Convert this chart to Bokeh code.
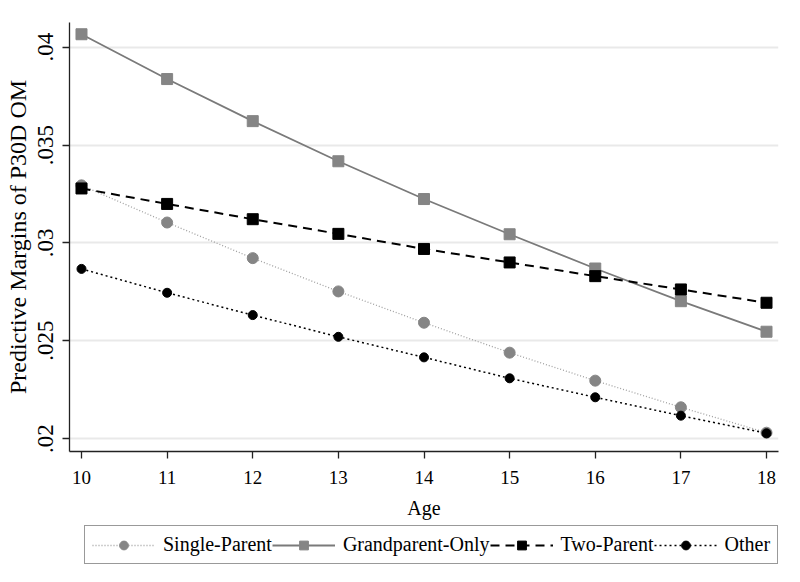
from bokeh.plotting import figure
from bokeh.layouts import column
from bokeh.models import Range1d, FixedTicker, Legend, LegendItem
from bokeh.embed import file_html
from bokeh.resources import INLINE

# ---- data ----
ages = [10, 11, 12, 13, 14, 15, 16, 17, 18]
single_parent = [0.03294, 0.03104, 0.02922, 0.02752, 0.02592, 0.02439, 0.02296, 0.02160, 0.02030]
grandparent_only = [0.04066, 0.03837, 0.03622, 0.03417, 0.03224, 0.03044, 0.02869, 0.02702, 0.02546]
two_parent = [0.03278, 0.03199, 0.03121, 0.03046, 0.02969, 0.02900, 0.02830, 0.02762, 0.02694]
other = [0.02867, 0.02745, 0.02631, 0.02520, 0.02415, 0.02308, 0.02211, 0.02117, 0.02027]

series_names = ["Single-Parent", "Grandparent-Only", "Two-Parent", "Other"]
x_ticks = [10, 11, 12, 13, 14, 15, 16, 17, 18]
y_ticks = [0.02, 0.025, 0.03, 0.035, 0.04]
y_tick_labels = [".02", ".025", ".03", ".035", ".04"]

FONT = "Liberation Serif"

# styles per series (line colour, line width, dash, marker, marker size, marker colour)
styles = [
    dict(lc="#a0a0a0", lw=1.3, dash="1 2", marker="circle", ms=11, mc="#858585"),
    dict(lc="#7a7a7a", lw=1.8, dash="solid", marker="square", ms=11, mc="#858585"),
    dict(lc="black", lw=2, dash="9 6", marker="square", ms=11, mc="black"),
    dict(lc="black", lw=1.5, dash="2 3", marker="circle", ms=9, mc="black"),
]
series = [single_parent, grandparent_only, two_parent, other]

p = figure(width=784, height=525, output_backend="svg", toolbar_location=None,
           x_range=Range1d(9.86, 18.14), y_range=Range1d(0.01934, 0.04126),
           min_border_left=69, min_border_right=6, min_border_top=22,
           min_border_bottom=74)
p.outline_line_color = None
p.background_fill_color = "white"
p.border_fill_color = "white"

p.xgrid.visible = False
p.ygrid.grid_line_color = "#e9e9e9"
p.ygrid.grid_line_width = 2

p.xaxis.ticker = FixedTicker(ticks=x_ticks)
p.yaxis.ticker = FixedTicker(ticks=y_ticks)
p.yaxis.major_label_overrides = dict(zip(y_ticks, y_tick_labels))
p.yaxis.major_label_orientation = "vertical"

for ax in (p.xaxis[0], p.yaxis[0]):
    ax.minor_tick_line_color = None
    ax.major_tick_out = 7
    ax.major_tick_in = 0
    ax.axis_line_color = "#222222"
    ax.axis_line_width = 1.3
    ax.major_tick_line_color = "#222222"
    ax.major_tick_line_width = 1.3
    ax.major_label_text_font = FONT
    ax.major_label_text_color = "black"
    ax.axis_label_text_font = FONT
    ax.axis_label_text_font_style = "normal"
    ax.axis_label_text_color = "black"

p.xaxis.axis_label = "Age"
p.xaxis.major_label_text_font_size = "19px"
p.xaxis.axis_label_text_font_size = "20px"
p.xaxis.major_label_standoff = 12
p.xaxis.axis_label_standoff = 10

p.yaxis.axis_label = "Predictive Margins of P30D OM"
p.yaxis.major_label_text_font_size = "23px"
p.yaxis.axis_label_text_font_size = "24px"
p.yaxis.major_label_standoff = 9
p.yaxis.axis_label_standoff = 5

for ys, st in zip(series, styles):
    p.line(ages, ys, line_color=st["lc"], line_width=st["lw"], line_dash=st["dash"])
    p.scatter(ages, ys, marker=st["marker"], size=st["ms"],
              fill_color=st["mc"], line_color=st["mc"])

# ---- legend strip below the plot (its series lie outside its visible range) ----
leg = figure(width=784, height=41, output_backend="svg", toolbar_location=None,
             x_range=Range1d(0, 1), y_range=Range1d(0, 1),
             x_axis_location=None, y_axis_location=None,
             min_border_left=0, min_border_right=0, min_border_top=0, min_border_bottom=0)
leg.outline_line_color = None
leg.grid.visible = False
leg.background_fill_color = "white"
leg.border_fill_color = "white"

items = []
for name, ys, st in zip(series_names, series, styles):
    rl = leg.line(ages, ys, line_color=st["lc"], line_width=st["lw"], line_dash=st["dash"])
    rm = leg.scatter(ages, ys, marker=st["marker"], size=st["ms"],
                     fill_color=st["mc"], line_color=st["mc"])
    items.append(LegendItem(label=name, renderers=[rl, rm]))

legend = Legend(items=items, orientation="horizontal", location=(15, 2))
legend.label_text_font = FONT
legend.label_text_font_size = "20px"
legend.label_text_color = "black"
legend.glyph_width = 63
legend.glyph_height = 22
legend.label_standoff = 8
legend.spacing = 0
legend.padding = 7
legend.margin = 0
legend.border_line_color = "#333333"
legend.border_line_width = 1
legend.background_fill_color = "white"
legend.background_fill_alpha = 1
leg.add_layout(legend, "center")

layout = column(p, leg, spacing=0)
open("out.html", "w").write(file_html(layout, INLINE))
